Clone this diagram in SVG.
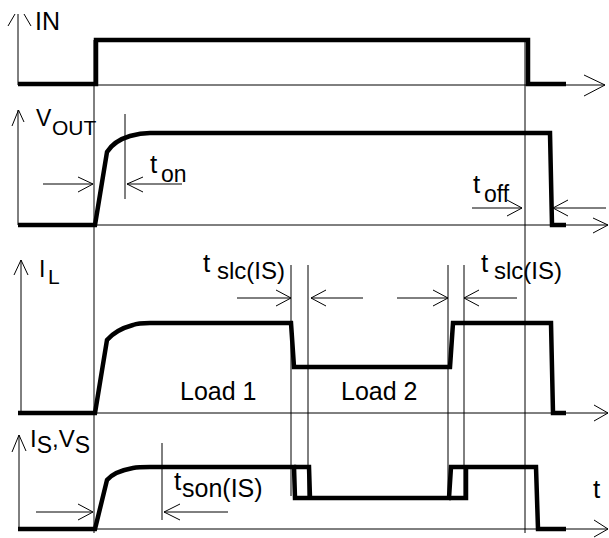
<svg xmlns="http://www.w3.org/2000/svg" width="609" height="538" viewBox="0 0 609 538">
<style>
.thin{fill:none;stroke:#000;stroke-width:1}
.thick{fill:none;stroke:#000;stroke-width:4.5;stroke-linejoin:miter}
.lbl{font-family:"Liberation Sans",Arial,sans-serif;fill:#000}
</style>
<rect width="609" height="538" fill="#fff"/>
<g id="connectors">
<line class="thin" x1="18" y1="14" x2="18" y2="85"/>
<polyline class="thin" points="8,26 15,14"/>
<polyline class="thin" points="24,14 31,26"/>
<line class="thin" x1="18" y1="85" x2="605" y2="85"/>
<polyline class="thin" points="584,75 605,85 584,96"/>

<line class="thin" x1="18" y1="110" x2="18" y2="225"/>
<polyline class="thin" points="12,126 18.5,110 24,122"/>
<line class="thin" x1="18" y1="225" x2="608" y2="225"/>
<polyline class="thin" points="593,218 608,225 593,233"/>

<line class="thin" x1="21" y1="260" x2="21" y2="413"/>
<polyline class="thin" points="14,275 21,260 28,275"/>
<line class="thin" x1="18" y1="413" x2="608" y2="413"/>
<polyline class="thin" points="594,405 608,413 594,421"/>

<line class="thin" x1="19" y1="435" x2="19" y2="529"/>
<polyline class="thin" points="12,452 19,435 26,451"/>
<line class="thin" x1="18" y1="529" x2="608" y2="529"/>
<polyline class="thin" points="594,520 608,529 594,537"/>

<line class="thin" x1="94" y1="40" x2="94" y2="533"/>
<line class="thin" x1="525" y1="40" x2="525" y2="533"/>
<line class="thin" x1="125" y1="114" x2="125" y2="199"/>
<line class="thin" x1="291" y1="265" x2="291" y2="496"/>
<line class="thin" x1="308" y1="265" x2="308" y2="496"/>
<line class="thin" x1="448" y1="265" x2="448" y2="496"/>
<line class="thin" x1="464" y1="265" x2="464" y2="496"/>
<line class="thin" x1="162" y1="443" x2="162" y2="520"/>

<line class="thin" x1="43" y1="184" x2="93" y2="184"/>
<polyline class="thin" points="78,177 93,184 78,192"/>
<line class="thin" x1="127" y1="184" x2="182" y2="184"/>
<polyline class="thin" points="143,177 127,184 143,192"/>

<line class="thin" x1="472" y1="208" x2="522" y2="208"/>
<polyline class="thin" points="507,200 522,208 507,216"/>
<line class="thin" x1="553" y1="208" x2="606" y2="208"/>
<polyline class="thin" points="568,200 553,208 568,216"/>

<line class="thin" x1="237" y1="298" x2="291" y2="298"/>
<polyline class="thin" points="276,290 291,298 276,306"/>
<line class="thin" x1="311" y1="298" x2="363" y2="298"/>
<polyline class="thin" points="326,290 311,298 326,306"/>
<line class="thin" x1="397" y1="298" x2="448" y2="298"/>
<polyline class="thin" points="433,290 448,298 433,306"/>
<line class="thin" x1="464" y1="298" x2="517" y2="298"/>
<polyline class="thin" points="479,290 464,298 479,306"/>

<line class="thin" x1="36" y1="512" x2="93" y2="512"/>
<polyline class="thin" points="78,504 93,512 78,520"/>
<line class="thin" x1="164" y1="512" x2="228" y2="512"/>
<polyline class="thin" points="180,504 164,512 180,520"/>
</g>

<g id="signal-in">
<path class="thick" d="M18,84 H96 V40 H528 V84 H566"/>
<text class="lbl" x="35" y="30" font-size="25">IN</text>
</g>

<g id="signal-vout">
<path class="thick" d="M18,225 H95 L107,152 C112,144 120,139 130,136 C137,134 142,133 150,133 H550 L552,225 H566"/>
<text class="lbl" x="36" y="126" font-size="23">V</text>
<text class="lbl" x="52" y="135" font-size="21">OUT</text>
<text class="lbl" x="150" y="173" font-size="26">t</text>
<text class="lbl" x="161" y="182" font-size="23">on</text>
<text class="lbl" x="473" y="193" font-size="26">t</text>
<text class="lbl" x="484" y="202" font-size="23">off</text>
</g>

<g id="signal-il">
<path class="thick" d="M18,413 H95 L107,340 C113,333 122,328 133,325 C138,323 143,323 150,323 H291 L294,367 H450 L453,323 H551 L553,413 H566"/>
<text class="lbl" x="39" y="277" font-size="23">I</text>
<text class="lbl" x="48" y="284" font-size="21">L</text>
<text class="lbl" x="203" y="272" font-size="26">t</text>
<text class="lbl" x="217" y="279" font-size="24">slc(IS)</text>
<text class="lbl" x="481" y="272" font-size="26">t</text>
<text class="lbl" x="494" y="279" font-size="24">slc(IS)</text>
<text class="lbl" x="180" y="400" font-size="25">Load 1</text>
<text class="lbl" x="341" y="400" font-size="25">Load 2</text>
</g>

<g id="signal-is">
<path class="thick" d="M18,529 H95 L107,480 C113,473 122,470 133,468 C138,467 143,467 150,467 H294 L295,498 H449 L451,467 H536 L538,529 H566"/>
<path class="thick" d="M294,467 H309 L310,498"/>
<path class="thick" d="M449,498 H466 V467"/>
<text class="lbl" x="30" y="447" font-size="24">I<tspan font-size="23" dy="6">S</tspan><tspan dy="-6">,V</tspan><tspan font-size="23" dy="6">S</tspan></text>
<text class="lbl" x="174" y="490" font-size="26">t</text>
<text class="lbl" x="182" y="497" font-size="25">son(IS)</text>
<text class="lbl" x="593" y="498" font-size="26">t</text>
</g>
</svg>
